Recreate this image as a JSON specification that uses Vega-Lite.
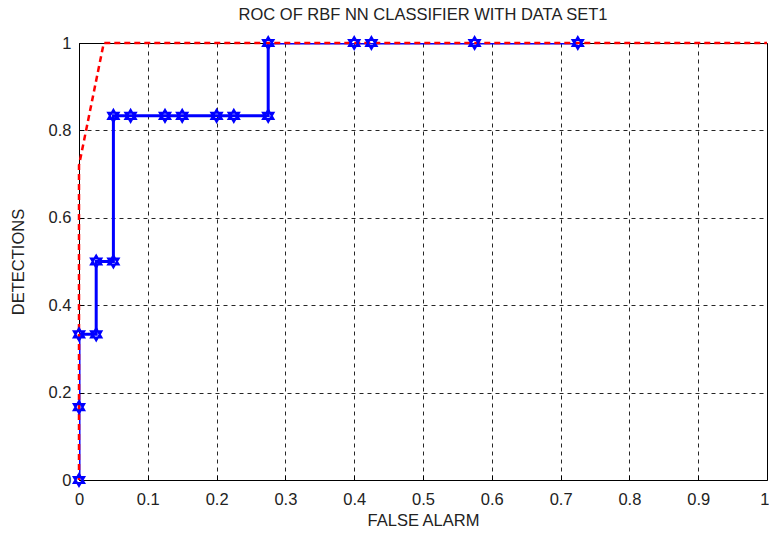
{
  "$schema": "https://vega.github.io/schema/vega-lite/v6.json",
  "autosize": "none",
  "width": 688,
  "height": 437,
  "padding": {"left": 79, "top": 43, "right": 2, "bottom": 55},
  "background": "white",
  "config": {
    "font": "Liberation Sans",
    "view": {"stroke": "black", "strokeWidth": 1},
    "axis": {
      "labelFont": "Liberation Sans",
      "titleFont": "Liberation Sans",
      "labelFontSize": 16.5,
      "titleFontSize": 16.5,
      "titleFontWeight": "normal",
      "labelColor": "#222",
      "titleColor": "#222",
      "labelFlush": false,
      "domain": false,
      "grid": true,
      "gridColor": "#000",
      "gridDash": [4, 4],
      "gridOpacity": 0.85,
      "tickColor": "#000",
      "tickSize": -5,
      "labelPadding": 13
    }
  },
  "title": {
    "text": "ROC OF RBF NN CLASSIFIER WITH DATA SET1",
    "font": "Liberation Sans",
    "fontSize": 16.5,
    "fontWeight": "normal",
    "color": "#222",
    "offset": 9
  },
  "datasets": {
    "nn": [
      {"fa": 0, "det": 0, "o": 1},
      {"fa": 0, "det": 0.1667, "o": 2},
      {"fa": 0, "det": 0.3333, "o": 3},
      {"fa": 0.025, "det": 0.3333, "o": 4},
      {"fa": 0.025, "det": 0.5, "o": 5},
      {"fa": 0.05, "det": 0.5, "o": 6},
      {"fa": 0.05, "det": 0.8333, "o": 7},
      {"fa": 0.075, "det": 0.8333, "o": 8},
      {"fa": 0.125, "det": 0.8333, "o": 9},
      {"fa": 0.15, "det": 0.8333, "o": 10},
      {"fa": 0.2, "det": 0.8333, "o": 11},
      {"fa": 0.225, "det": 0.8333, "o": 12},
      {"fa": 0.275, "det": 0.8333, "o": 13},
      {"fa": 0.275, "det": 1, "o": 14},
      {"fa": 0.4, "det": 1, "o": 15},
      {"fa": 0.425, "det": 1, "o": 16},
      {"fa": 0.575, "det": 1, "o": 17},
      {"fa": 0.725, "det": 1, "o": 18}
    ],
    "red": [
      {"fa": 0, "det": 0, "o": 1},
      {"fa": 0, "det": 0.72, "o": 2},
      {"fa": 0.036, "det": 1, "o": 3},
      {"fa": 1, "det": 1, "o": 4}
    ]
  },
  "layer": [
    {
      "data": {"name": "nn"},
      "mark": {"type": "line", "color": "#0000ff", "strokeWidth": 3, "clip": true},
      "encoding": {
        "x": {
          "field": "fa", "type": "quantitative",
          "scale": {"domain": [0, 1], "nice": false},
          "axis": {
            "values": [0, 0.1, 0.2, 0.3, 0.4, 0.5, 0.6, 0.7, 0.8, 0.9, 1],
            "format": "~g",
            "title": "FALSE ALARM",
            "titlePadding": 5,
            "labelPadding": 16,
            "labelAlign": {"expr": "datum.value >= 1 ? 'right' : 'center'"},
            "labelOffset": {"expr": "datum.value >= 1 ? 2 : 0"}
          }
        },
        "y": {
          "field": "det", "type": "quantitative",
          "scale": {"domain": [0, 1], "nice": false},
          "axis": {"values": [0, 0.2, 0.4, 0.6, 0.8, 1], "format": "~g", "title": "DETECTIONS", "titlePadding": 22}
        },
        "order": {"field": "o"}
      }
    },
    {
      "data": {"name": "red"},
      "mark": {"type": "line", "color": "#ff0000", "strokeWidth": 2.5, "strokeDash": [6, 4], "clip": false},
      "encoding": {
        "x": {"field": "fa", "type": "quantitative"},
        "y": {"field": "det", "type": "quantitative"},
        "order": {"field": "o"}
      }
    },
    {
      "data": {"name": "nn"},
      "mark": {
        "type": "point",
        "shape": "M0,-1L0.866,0.5L-0.866,0.5ZM0,1L0.866,-0.5L-0.866,-0.5Z",
        "filled": false,
        "fill": "white",
        "fillOpacity": 0.6,
        "stroke": "#0000ff",
        "strokeWidth": 2,
        "opacity": 1,
        "size": 150,
        "clip": false
      },
      "encoding": {
        "x": {"field": "fa", "type": "quantitative"},
        "y": {"field": "det", "type": "quantitative"}
      }
    }
  ]
}
